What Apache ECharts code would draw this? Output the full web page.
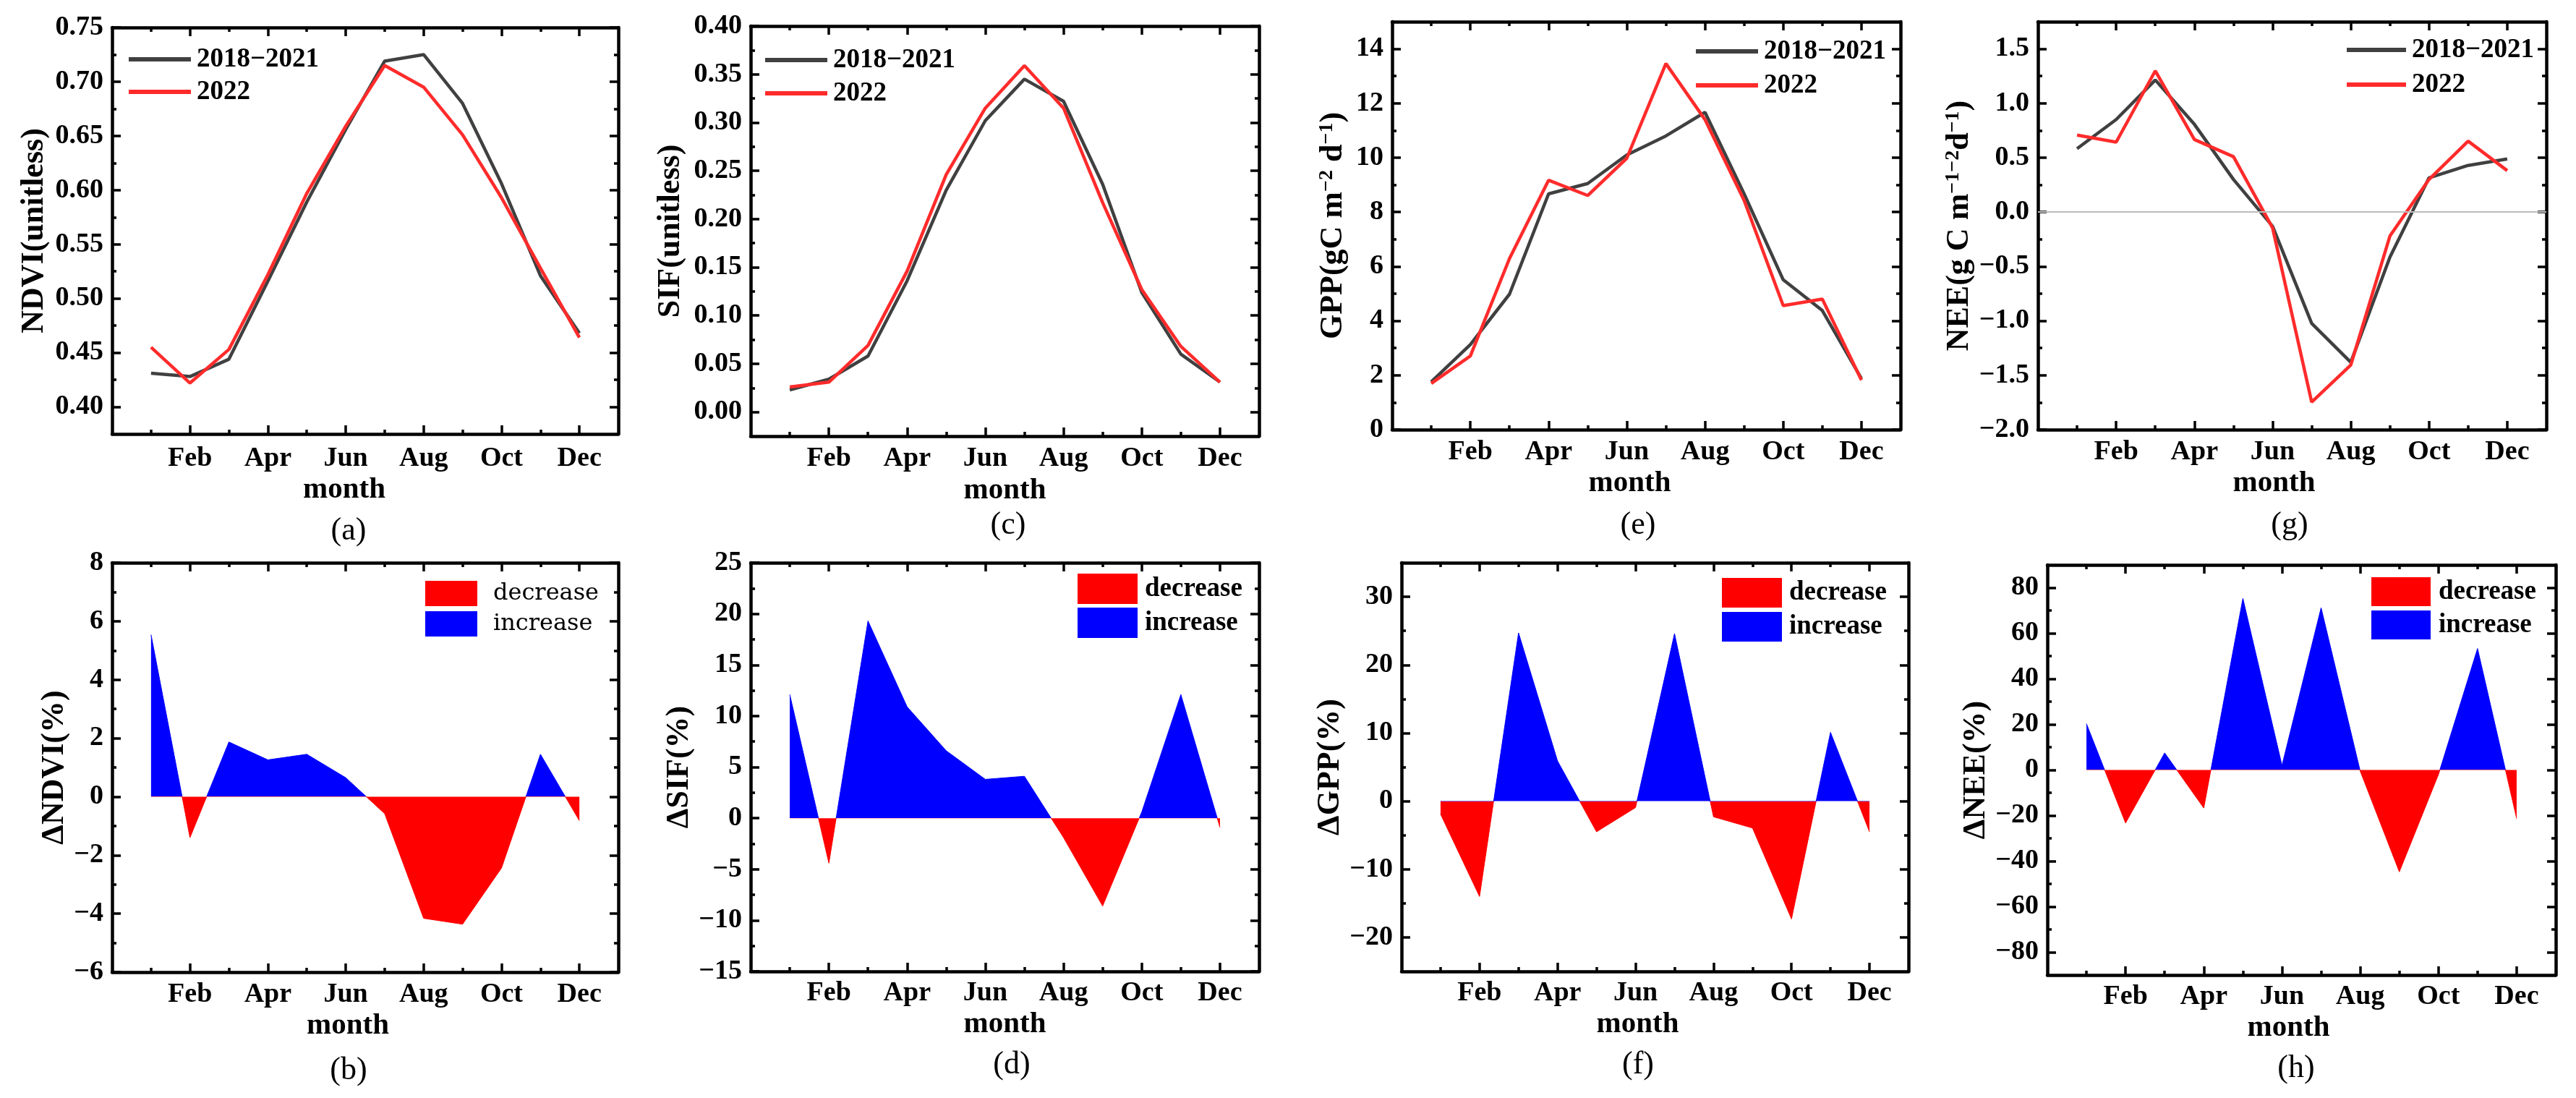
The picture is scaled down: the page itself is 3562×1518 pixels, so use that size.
<!DOCTYPE html>
<html>
<head>
<meta charset="utf-8">
<title>NDVI / SIF / GPP / NEE, 2022 vs 2018-2021</title>
<script src="https://cdn.jsdelivr.net/npm/echarts@6/dist/echarts.min.js"></script>
<style>
    html, body { margin: 0; padding: 0; background: #fff; }
    #chart { width: 3562px; height: 1518px; }
</style>
</head>
<body>
<div id="chart"></div>
<script>
    // x axis: months 1..12, labels on even months
    var months = ['Jan', 'Feb', 'Mar', 'Apr', 'May', 'Jun', 'Jul', 'Aug', 'Sep', 'Oct', 'Nov', 'Dec'];
    var monthTicks = [2, 4, 6, 8, 10, 12];
    var monthMinorTicks = [1, 3, 5, 7, 9, 11];

    // (a) NDVI
    var ndviBase = [0.431, 0.428, 0.444, 0.516, 0.589, 0.656, 0.719, 0.725, 0.680, 0.606, 0.521, 0.468];
    var ndvi2022 = [0.455, 0.422, 0.453, 0.522, 0.597, 0.659, 0.715, 0.695, 0.651, 0.593, 0.528, 0.464];
    var ndviTicks = [0.40, 0.45, 0.50, 0.55, 0.60, 0.65, 0.70, 0.75];
    // (b) NDVI change, %
    var ndviChange = [5.54, -1.40, 1.87, 1.26, 1.45, 0.65, -0.58, -4.16, -4.36, -2.44, 1.45, -0.82];
    var ndviChangeTicks = [-6, -4, -2, 0, 2, 4, 6, 8];

    // (c) SIF
    var sifBase = [0.023, 0.034, 0.058, 0.136, 0.230, 0.302, 0.345, 0.322, 0.236, 0.124, 0.060, 0.031];
    var sif2022 = [0.026, 0.031, 0.069, 0.146, 0.246, 0.315, 0.359, 0.315, 0.217, 0.127, 0.068, 0.031];
    var sifTicks = [0.00, 0.05, 0.10, 0.15, 0.20, 0.25, 0.30, 0.35, 0.40];
    // (d) SIF change, %
    var sifChange = [12.1, -4.4, 19.3, 10.9, 6.6, 3.8, 4.1, -1.9, -8.6, 0.6, 12.1, -0.9];
    var sifChangeTicks = [-15, -10, -5, 0, 5, 10, 15, 20, 25];

    // (e) GPP
    var gppBase = [1.76, 3.13, 4.98, 8.67, 9.05, 10.1, 10.8, 11.67, 8.67, 5.51, 4.38, 1.88];
    var gpp2022 = [1.70, 2.71, 6.29, 9.17, 8.61, 9.98, 13.46, 11.4, 8.43, 4.56, 4.80, 1.82];
    var gppTicks = [0, 2, 4, 6, 8, 10, 12, 14];
    // (f) GPP change, %
    var gppChange = [-1.9, -14.0, 24.7, 5.9, -4.5, -0.95, 24.6, -2.3, -3.95, -17.3, 10.1, -4.5];
    var gppChangeTicks = [-20, -10, 0, 10, 20, 30];

    // (g) NEE
    var neeBase = [0.583, 0.851, 1.214, 0.807, 0.30, -0.131, -1.024, -1.381, -0.414, 0.315, 0.429, 0.488];
    var nee2022 = [0.708, 0.643, 1.298, 0.667, 0.509, -0.146, -1.747, -1.405, -0.22, 0.30, 0.652, 0.381];
    var neeTicks = [-2.0, -1.5, -1.0, -0.5, 0.0, 0.5, 1.0, 1.5];
    // (h) NEE change, %
    var neeChange = [20.3, -23.3, 7.5, -16.7, 75.3, 2.0, 71.2, -0.5, -44.7, -2.0, 53.3, -21.3];
    var neeChangeTicks = [-80, -60, -40, -20, 0, 20, 40, 60, 80];

    var FONT = '"Liberation Serif", "Times New Roman", serif';
    var BLACK = '#000';
    var GRAY = '#404040';
    var RED = '#ff2b2b';
    var RED_FILL = '#ff0000';
    var BLUE_FILL = '#0000ff';
    var BASE_NAME = '2018\u22122021';
    var CUR_NAME = '2022';

    var panels = [
        {id: 'a', box: [155, 38, 700, 562], base: ndviBase, cur: ndvi2022, yMin: 0.375, yMax: 0.75, ticks: ndviTicks, dec: 2,
            yName: 'NDVI(unitless)', yGap: 84, xMargin: 14, monthGap: 54, monthShift: 58,
            legend: {left: 178, top: 62, w: 86, gap: 5}, label: [482, 734]},
        {id: 'c', box: [1038, 36, 703, 567], base: sifBase, cur: sif2022, yMin: -0.025, yMax: 0.40, ticks: sifTicks, dec: 2,
            yName: 'SIF(unitless)', yGap: 87, xMargin: 11, monthGap: 52, monthShift: 0,
            legend: {left: 1058, top: 63, w: 86, gap: 6}, label: [1394, 726]},
        {id: 'e', box: [1925, 30, 703, 564], base: gppBase, cur: gpp2022, yMin: 0, yMax: 15, ticks: gppTicks, dec: 0,
            yName: 'GPP(gC m{sup|\u22122} d{sup|\u22121})', yGap: 58, xMargin: 11, monthGap: 49, monthShift: 46,
            legend: {left: 2345, top: 51, w: 86, gap: 7}, label: [2265, 726]},
        {id: 'g', box: [2818, 30, 703, 564], base: neeBase, cur: nee2022, yMin: -2, yMax: 1.75, ticks: neeTicks, dec: 1,
            yName: 'NEE(g C m{sup|\u22121\u22122}d{sup|\u22121})', yGap: 79, xMargin: 11, monthGap: 49, monthShift: 50,
            legend: {left: 3245, top: 49, w: 82, gap: 8}, label: [3166, 726], zeroLine: true},
        {id: 'b', box: [155, 778, 700, 566], change: ndviChange, yMin: -6, yMax: 8, ticks: ndviChangeTicks, dec: 0,
            yName: '\u0394NDVI(%)', yGap: 50, xMargin: 11, monthGap: 47, monthShift: 48,
            legend: {left: 588, top: 803, w: 72, h: 35, gap: 7, pad: 17, weight: 'normal', font: '"DejaVu Serif", serif', size: 32},
            label: [482, 1480]},
        {id: 'd', box: [1038, 778, 703, 565], change: sifChange, yMin: -15, yMax: 25, ticks: sifChangeTicks, dec: 0,
            yName: '\u0394SIF(%)', yGap: 70, xMargin: 10, monthGap: 50, monthShift: 0,
            legend: {left: 1490, top: 793, w: 83, h: 42, gap: 5, pad: 5}, label: [1399, 1472]},
        {id: 'f', box: [1938, 778, 701, 565], change: gppChange, yMin: -25, yMax: 35, ticks: gppChangeTicks, dec: 0,
            yName: '\u0394GPP(%)', yGap: 70, xMargin: 10, monthGap: 50, monthShift: 48,
            legend: {left: 2381, top: 799, w: 83, h: 41, gap: 6, pad: 5}, label: [2265, 1472]},
        {id: 'h', box: [2831, 781, 703, 567], change: neeChange, yMin: -90, yMax: 90, ticks: neeChangeTicks, dec: 0,
            yName: '\u0394NEE(%)', yGap: 70, xMargin: 10, monthGap: 50, monthShift: 36,
            legend: {left: 3279, top: 798, w: 82, h: 40, gap: 6, pad: 6}, label: [3175, 1477]}
    ];

    function fmt(dec) {
        return function (v) {
            var s = Math.abs(v).toFixed(dec);
            return (v < -1e-9 ? '\u2212' : '') + s;
        };
    }

    function midpoints(t) {
        var m = [];
        for (var i = 0; i < t.length - 1; i++) {
            m.push((t[i] + t[i + 1]) / 2);
        }
        return m;
    }

    // one side of the box: axis line + inward ticks, no labels
    function frameAxis(gi, position, min, max, ticks, tickLen, lineShow) {
        return {
            type: 'value', gridIndex: gi, position: position, min: min, max: max,
            axisLine: {show: lineShow, onZero: false, lineStyle: {color: BLACK, width: 4.5}},
            axisTick: {show: true, inside: true, length: tickLen, customValues: ticks,
                lineStyle: {color: BLACK, width: 3.5}},
            axisLabel: {show: false},
            splitLine: {show: false},
            silent: true
        };
    }

    var option = {
        animation: false,
        backgroundColor: '#fff',
        grid: [], xAxis: [], yAxis: [], series: [], legend: [], visualMap: [], graphic: []
    };

    var legendDummiesAdded = false;

    panels.forEach(function (p, gi) {
        option.grid.push({left: p.box[0], top: p.box[1], width: p.box[2], height: p.box[3],
            containLabel: false, outerBoundsMode: 'none'});

        var xi = option.xAxis.length;
        var yi = option.yAxis.length;

        var xb = frameAxis(gi, 'bottom', 0, 13, monthTicks, 12, true);
        xb.axisLabel = {
            show: true, customValues: monthTicks, margin: p.xMargin,
            formatter: function (v) { return months[v - 1]; },
            color: BLACK, fontFamily: FONT, fontWeight: 'bold', fontSize: 38, lineHeight: 40
        };
        xb.name = 'month';
        xb.nameLocation = 'middle';
        xb.nameGap = p.monthGap;
        xb.nameTextStyle = {color: BLACK, fontFamily: FONT, fontWeight: 'bold', fontSize: 41,
            lineHeight: 46, padding: [0, p.monthShift, 0, 0]};
        option.xAxis.push(
            xb,
            frameAxis(gi, 'bottom', 0, 13, monthMinorTicks, 6, false),
            frameAxis(gi, 'top', 0, 13, monthTicks, 12, true),
            frameAxis(gi, 'top', 0, 13, monthMinorTicks, 6, false)
        );

        var minor = midpoints(p.ticks);
        var yl = frameAxis(gi, 'left', p.yMin, p.yMax, p.ticks, 12, true);
        yl.axisLabel = {
            show: true, customValues: p.ticks, margin: 12, formatter: fmt(p.dec),
            color: BLACK, fontFamily: FONT, fontWeight: 'bold', fontSize: 38
        };
        yl.name = p.yName;
        yl.nameLocation = 'middle';
        yl.nameGap = p.yGap;
        yl.nameTextStyle = {
            color: BLACK, fontFamily: FONT, fontWeight: 'bold', fontSize: 44, lineHeight: 46,
            rich: {
                sup: {color: BLACK, fontFamily: FONT, fontWeight: 'bold', fontSize: 28, lineHeight: 28, verticalAlign: 'top'}
            }
        };
        option.yAxis.push(
            yl,
            frameAxis(gi, 'left', p.yMin, p.yMax, minor, 6, false),
            frameAxis(gi, 'right', p.yMin, p.yMax, p.ticks, 12, true),
            frameAxis(gi, 'right', p.yMin, p.yMax, minor, 6, false)
        );

        if (p.base) {
            var baseSeries = {
                name: BASE_NAME, type: 'line', xAxisIndex: xi, yAxisIndex: yi,
                data: p.base.map(function (v, i) { return [i + 1, v]; }),
                symbol: 'none', lineStyle: {color: GRAY, width: 4.5}, itemStyle: {color: GRAY}, z: 3
            };
            if (p.zeroLine) {
                baseSeries.markLine = {
                    silent: true, symbol: ['none', 'none'], label: {show: false},
                    lineStyle: {color: '#bdbdbd', type: 'solid', width: 2},
                    data: [{yAxis: 0}]
                };
            }
            option.series.push(baseSeries, {
                name: CUR_NAME, type: 'line', xAxisIndex: xi, yAxisIndex: yi,
                data: p.cur.map(function (v, i) { return [i + 1, v]; }),
                symbol: 'none', lineStyle: {color: RED, width: 4.5}, itemStyle: {color: RED}, z: 4
            });
            option.legend.push({
                data: [BASE_NAME, CUR_NAME], orient: 'vertical', left: p.legend.left, top: p.legend.top,
                padding: 0, icon: 'rect', itemWidth: p.legend.w, itemHeight: 6, itemGap: p.legend.gap,
                selectedMode: false,
                textStyle: {color: BLACK, fontFamily: FONT, fontWeight: 'bold', fontSize: 37, lineHeight: 40,
                    padding: [0, 0, 0, 3]}
            });
        } else {
            var si = option.series.length;
            option.series.push({
                name: 'change ' + p.id, type: 'line', xAxisIndex: xi, yAxisIndex: yi,
                data: p.change.map(function (v, i) { return [i + 1, v]; }),
                symbol: 'none', lineStyle: {width: 1}, areaStyle: {opacity: 1}, z: 3
            });
            option.visualMap.push({
                type: 'piecewise', show: false, seriesIndex: si, dimension: 1,
                pieces: [{min: -1000, max: 0, color: RED_FILL}, {min: 0, max: 1000, color: BLUE_FILL}]
            });
            if (!legendDummiesAdded) {
                legendDummiesAdded = true;
                option.series.push(
                    {name: 'decrease', type: 'bar', xAxisIndex: xi, yAxisIndex: yi, data: [], itemStyle: {color: RED_FILL}},
                    {name: 'increase', type: 'bar', xAxisIndex: xi, yAxisIndex: yi, data: [], itemStyle: {color: BLUE_FILL}}
                );
            }
            option.legend.push({
                data: ['decrease', 'increase'], orient: 'vertical', left: p.legend.left, top: p.legend.top,
                padding: 0, icon: 'rect', itemWidth: p.legend.w, itemHeight: p.legend.h, itemGap: p.legend.gap,
                selectedMode: false,
                textStyle: {color: BLACK, fontFamily: p.legend.font || FONT, fontWeight: p.legend.weight || 'bold',
                    fontSize: p.legend.size || 37, padding: [0, 0, 0, p.legend.pad]}
            });
        }

        option.graphic.push({
            type: 'text', x: p.label[0], y: p.label[1], z: 10,
            style: {
                text: '(' + p.id + ')', fill: BLACK, fontFamily: FONT, fontSize: 44,
                align: 'center', verticalAlign: 'middle', textAlign: 'center', textVerticalAlign: 'middle'
            }
        });
    });

    var myChart = echarts.init(document.getElementById('chart'));
    myChart.setOption(option);
</script>
</body>
</html>
